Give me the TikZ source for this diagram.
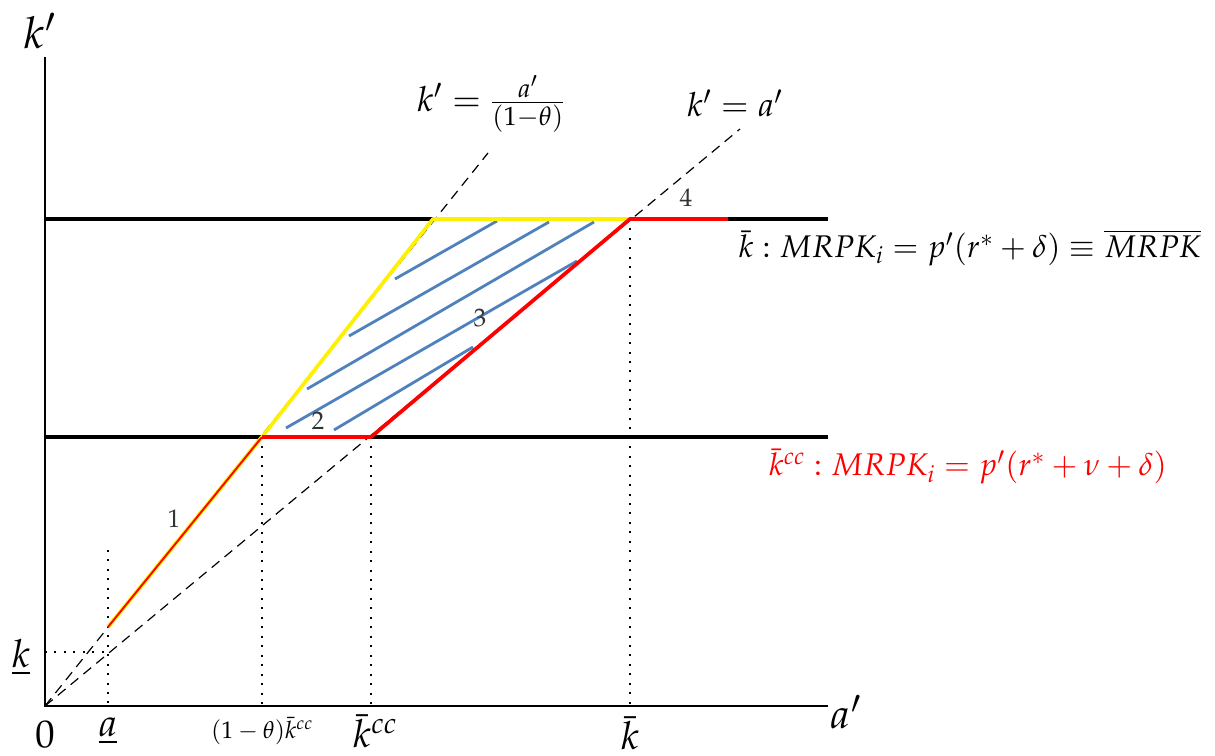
\documentclass[tikz,border=0pt]{standalone}
\usepackage{mathpazo}
\usepackage{amsmath}
\definecolor{hatchblue}{RGB}{79,129,189}
\definecolor{lineyellow}{RGB}{255,240,0}
\definecolor{linered}{RGB}{255,0,0}
\begin{document}
\begin{tikzpicture}[x=0.75pt,y=-0.75pt,
  axis/.style={black,line width=1.2pt},
  level/.style={black,line width=2.8pt},
  guide/.style={black,line width=0.9pt,dash pattern=on 7.5pt off 5pt},
  drop/.style={black,line width=1.5pt,dash pattern=on 1.5pt off 5.6pt},
  redseg/.style={linered,line width=2.8pt},
  yelseg/.style={lineyellow,line width=2.8pt},
  hatch/.style={hatchblue,line width=2.1pt},
  biglbl/.style={inner sep=0pt,font=\fontsize{29}{34}\selectfont},
  midlbl/.style={inner sep=0pt,font=\fontsize{25}{30}\selectfont},
  eqlbl/.style={inner sep=0pt,font=\fontsize{23.5}{28}\selectfont},
  numlbl/.style={inner sep=0pt,text=black!80,font=\fontsize{19}{22}\selectfont}]
\useasboundingbox (0,0) rectangle (1215,756);
% key points
\coordinate (O) at (45,706);
\coordinate (Ytop) at (45,57);
\coordinate (Xend) at (828,706);
\coordinate (HL) at (45,219);
\coordinate (HR) at (828,219);
\coordinate (LL) at (45,437);
\coordinate (LR) at (828,437);
\coordinate (P1) at (262,437);
\coordinate (P2) at (371,437);
\coordinate (P3) at (433,219);
\coordinate (P4) at (630,219);
\coordinate (P5) at (728,219);
\coordinate (A) at (108,627);
\coordinate (Aup) at (108,550);
\coordinate (Abot) at (108,706);
\coordinate (Kl) at (45,652);
\coordinate (Kr) at (108,652);
\coordinate (P1b) at (262,706);
\coordinate (P2b) at (371,706);
\coordinate (P4b) at (630,706);
\coordinate (SteepEnd) at (488,153);
\coordinate (FlatEnd) at (740,129);
% axes
\draw[axis] (Ytop) -- (O) -- (Xend);
% horizontal levels
\draw[level] (HL) -- (HR);
\draw[level] (LL) -- (LR);
% dashed rays
\draw[guide] (O) -- (SteepEnd);
\draw[guide] (O) -- (FlatEnd);
% dotted drops
\draw[drop] (Aup) -- (Abot);
\draw[drop] (Kl) -- (Kr);
\draw[drop] (P1) -- (P1b);
\draw[drop] (P2) -- (P2b);
\draw[drop] (P4) -- (P4b);
% segment 1 (orange)
\draw[lineyellow,line width=3pt] (A) -- (P1);
\draw[linered,line width=1.4pt] (A) -- (P1);
% hatch
\coordinate (h1a) at (395,279); \coordinate (h1b) at (497,221);
\coordinate (h2a) at (349,336); \coordinate (h2b) at (549,222);
\coordinate (h3a) at (307,389); \coordinate (h3b) at (594,222);
\coordinate (h4a) at (286,428); \coordinate (h4b) at (577,261);
\coordinate (h5a) at (334,430); \coordinate (h5b) at (473,347);
\draw[hatch] (h1a) -- (h1b);
\draw[hatch] (h2a) -- (h2b);
\draw[hatch] (h3a) -- (h3b);
\draw[hatch] (h4a) -- (h4b);
\draw[hatch] (h5a) -- (h5b);
% yellow and red boundaries
\draw[yelseg,line join=round] (P1) -- (P3) -- (P4);
\draw[redseg,line join=round] (P1) -- (P2) -- (P4) -- (P5);
% labels
\node[biglbl,font=\fontsize{33}{38}\selectfont] (lkp) at (40,31) {$k'$};
\node[biglbl,font=\fontsize{31}{36}\selectfont] (lap) at (846,712) {$a'$};
\node[biglbl] (l0) at (45,735) {$0$};
\node[biglbl] (la) at (108,731) {$\underline{a}$};
\node[inner sep=0pt,font=\fontsize{18}{21}\selectfont] (lth) at (262,731) {$(1-\theta)\bar{k}^{cc}$};
\node[biglbl] (lkcc) at (375,731) {$\bar{k}^{cc}$};
\node[biglbl] (lkb) at (630,733) {$\bar{k}$};
\node[biglbl] (lku) at (21,657) {$\underline{k}$};
\node[midlbl,font=\fontsize{26}{31}\selectfont] (lsteep) at (491,104) {$k' = \frac{a'}{(1-\theta)}$};
\node[midlbl] (lflat) at (735,103) {$k' = a'$};
\node[eqlbl] (lup) at (970,248) {$\bar{k} : MRPK_i = p'(r^{*}+\delta) \equiv \overline{MRPK}$};
\node[eqlbl,text=linered] (llow) at (968,467) {$\bar{k}^{cc} : MRPK_i = p'(r^{*}+\nu+\delta)$};
\node[numlbl] (n1) at (174,519) {$1$};
\node[numlbl] (n2) at (318,421) {$2$};
\node[numlbl] (n3) at (480,318) {$3$};
\node[numlbl] (n4) at (686,198) {$4$};
\end{tikzpicture}
\end{document}
